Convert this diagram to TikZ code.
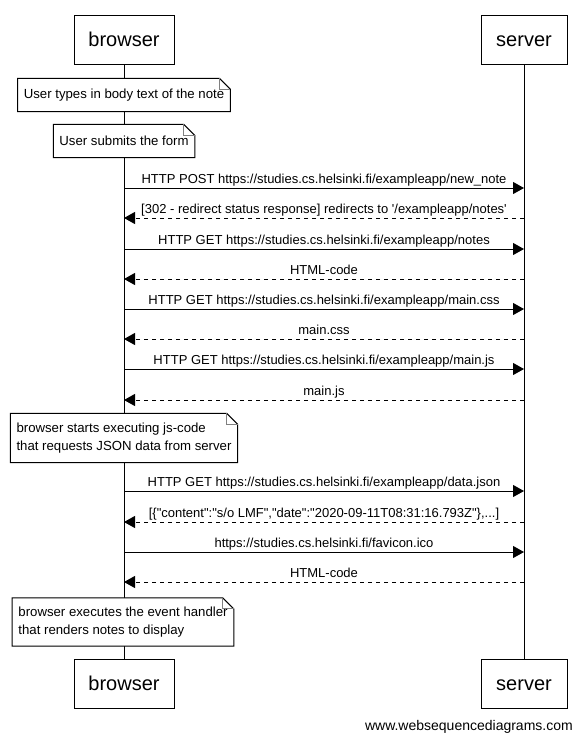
\documentclass[tikz,border=0pt]{standalone}
\usepackage{fontspec}
\setmainfont{Liberation Sans}[Ligatures=TeXOff]
\usetikzlibrary{arrows.meta,calc}
\pgfdeclarelayer{lifelayer}
\pgfdeclarelayer{notelayer}
\pgfsetlayers{lifelayer,notelayer,main}
\newcommand\notefold[1]{%
  \begin{pgfonlayer}{notelayer}
    \draw[line width=1pt,fill=white] (#1.south west) -- (#1.north west) -- ($(#1.north east)+(-11,0)$) -- ($(#1.north east)+(0,11)$) -- (#1.south east) -- cycle;
    \draw[line width=0.7pt,gray] ($(#1.north east)+(-11,0)$) -- ($(#1.north east)+(-11,11)$) -- ($(#1.north east)+(0,11)$);
  \end{pgfonlayer}}
\begin{document}
\begin{tikzpicture}[x=1pt,y=-1pt,
  actor/.style={draw,line width=1pt,fill=white,minimum height=49pt,inner sep=0pt,text height=14.5pt,text depth=0pt,font=\fontsize{20}{24}\selectfont},
  notebox/.style={inner xsep=6pt,inner ysep=0pt,align=left,font=\fontsize{13.2}{17.5}\selectfont},
  msglabel/.style={font=\fontsize{13}{15}\selectfont,anchor=base,yshift=5pt,inner sep=0pt},
  req/.style={line width=1pt,-{Triangle[length=11pt,width=12pt]}},
  resp/.style={req,dash pattern=on 4pt off 4pt},
  life/.style={line width=1pt}
]
\useasboundingbox (0,0) rectangle (582,742);
% actors
\node[actor,minimum width=100pt] (bt) at (124,39.5) {browser};
\node[actor,minimum width=86pt] (st) at (524,39.5) {server};
\node[actor,minimum width=100pt] (bb) at (124,683.5) {browser};
\node[actor,minimum width=86pt] (sb) at (524,683.5) {server};
% lifelines
\begin{pgfonlayer}{lifelayer}
  \draw[life] (bt.south) -- (bb.north);
  \draw[life] (st.south) -- (sb.north);
\end{pgfonlayer}
% notes
\node[notebox,minimum height=33pt] (n1) at (124,95) {User types in body text of the note};
\notefold{n1}
\node[notebox,minimum height=33pt] (n2) at (124,141) {User submits the form};
\notefold{n2}
\node[notebox,minimum height=49pt] (n3) at (124,438) {browser starts executing js-code\\that requests JSON data from server};
\notefold{n3}
\node[notebox,minimum height=48pt] (n4) at (123,622) {browser executes the event handler\\that renders notes to display};
\notefold{n4}
% message endpoints
\foreach \i/\y in {1/188,2/218,3/249,4/279,5/309,6/339,7/369,8/400,9/491,10/522,11/552,12/582}{
  \coordinate (b\i) at (124,\y);
  \coordinate (s\i) at (524,\y);
}
% messages
\draw[req] (b1) -- (s1) node[msglabel,midway] {HTTP POST https://studies.cs.helsinki.fi/exampleapp/new\_note};
\draw[resp] (s2) -- (b2) node[msglabel,midway] {[302 - redirect status response] redirects to '/exampleapp/notes'};
\draw[req] (b3) -- (s3) node[msglabel,midway] {HTTP GET https://studies.cs.helsinki.fi/exampleapp/notes};
\draw[resp] (s4) -- (b4) node[msglabel,midway] {HTML-code};
\draw[req] (b5) -- (s5) node[msglabel,midway] {HTTP GET https://studies.cs.helsinki.fi/exampleapp/main.css};
\draw[resp] (s6) -- (b6) node[msglabel,midway] {main.css};
\draw[req] (b7) -- (s7) node[msglabel,midway] {HTTP GET https://studies.cs.helsinki.fi/exampleapp/main.js};
\draw[resp] (s8) -- (b8) node[msglabel,midway] {main.js};
\draw[req] (b9) -- (s9) node[msglabel,midway] {HTTP GET https://studies.cs.helsinki.fi/exampleapp/data.json};
\draw[resp] (s10) -- (b10) node[msglabel,midway] {[\{"content":"s/o LMF","date":"2020-09-11T08:31:16.793Z"\},...]};
\draw[req] (b11) -- (s11) node[msglabel,midway] {https://studies.cs.helsinki.fi/favicon.ico};
\draw[resp] (s12) -- (b12) node[msglabel,midway] {HTML-code};
% watermark
\node[anchor=base east,inner sep=0pt,font=\fontsize{14}{16}\selectfont] (wm) at (573,730) {www.websequencediagrams.com};
\end{tikzpicture}
\end{document}
